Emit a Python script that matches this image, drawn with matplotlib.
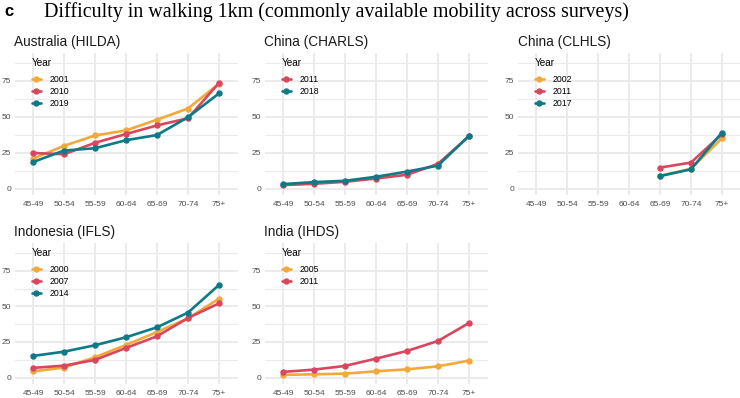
import matplotlib.pyplot as plt
import numpy as np

plt.rcParams["font.family"] = ["Liberation Sans", "DejaVu Sans"]

ages = ["45-49", "50-54", "55-59", "60-64", "65-69", "70-74", "75+"]

# Australia (HILDA)
aus_2001 = [20.9, 29.8, 37.0, 40.5, 48.0, 55.8, 73.0]
aus_2010 = [24.8, 23.9, 31.9, 38.0, 44.0, 49.0, 73.6]
aus_2019 = [18.5, 26.5, 28.1, 33.7, 37.3, 49.7, 66.3]

# China (CHARLS)
charls_2011 = [2.4, 3.3, 4.7, 7.0, 9.6, 17.2, 36.4]
charls_2018 = [3.1, 4.5, 5.4, 8.2, 11.8, 16.0, 36.7]

# China (CLHLS) - only 65+
clhls_2002 = [None, None, None, None, 8.8, 13.8, 35.0]
clhls_2011 = [None, None, None, None, 14.6, 18.1, 37.9]
clhls_2017 = [None, None, None, None, 8.7, 13.4, 39.0]

# Indonesia (IFLS)
ifls_2000 = [4.4, 7.0, 14.3, 22.9, 32.0, 41.6, 55.4]
ifls_2007 = [6.8, 8.4, 12.4, 20.8, 29.0, 41.8, 52.1]
ifls_2014 = [15.2, 18.2, 22.7, 28.3, 35.3, 45.6, 65.0]

# India (IHDS)
ihds_2005 = [1.9, 2.3, 2.8, 4.4, 5.8, 7.9, 11.9]
ihds_2011 = [4.0, 5.6, 8.2, 13.3, 18.7, 25.7, 38.3]

ORANGE = "#F2A93B"
RED = "#D9475E"
TEAL = "#0D7A87"

panels = [
    ("Australia (HILDA)", [("2001", aus_2001, ORANGE), ("2010", aus_2010, RED), ("2019", aus_2019, TEAL)]),
    ("China (CHARLS)", [("2011", charls_2011, RED), ("2018", charls_2018, TEAL)]),
    ("China (CLHLS)", [("2002", clhls_2002, ORANGE), ("2011", clhls_2011, RED), ("2017", clhls_2017, TEAL)]),
    ("Indonesia (IFLS)", [("2000", ifls_2000, ORANGE), ("2007", ifls_2007, RED), ("2014", ifls_2014, TEAL)]),
    ("India (IHDS)", [("2005", ihds_2005, ORANGE), ("2011", ihds_2011, RED)]),
]

W, H = 740, 398
fig = plt.figure(figsize=(W / 100, H / 100), dpi=100)

lefts = [14.5, 264.5, 517.5]
pw = 223
rows = [(53, 195), (243, 384)]

for i, (title, series) in enumerate(panels):
    r, c = divmod(i, 3)
    top, bot = rows[r]
    ax = fig.add_axes([lefts[c] / W, 1 - bot / H, pw / W, (bot - top) / H])
    x = np.arange(len(ages))
    for lab, vals, col in series:
        y = np.array([np.nan if v is None else v for v in vals], dtype=float)
        ax.plot(x, y, color=col, lw=1.9, marker="o", ms=3.6, label=lab,
                solid_capstyle="round")
    ax.set_xlim(-0.6, len(ages) - 0.4)
    ax.set_ylim(-4.5, 94.5)
    ax.set_xticks(x)
    ax.set_xticklabels(ages)
    ax.set_yticks([0, 25, 50, 75])
    ax.set_yticks([12.5, 37.5, 62.5, 87.5], minor=True)
    ax.grid(True, which="major", color="#EBEBEB", lw=1.4)
    ax.grid(True, which="minor", axis="y", color="#EBEBEB", lw=0.8)
    ax.set_axisbelow(True)
    for s in ax.spines.values():
        s.set_visible(False)
    ax.tick_params(axis="both", which="both", length=0, labelsize=6,
                   labelcolor="#4D4D4D")
    ax.tick_params(axis="y", pad=2.5)
    ax.tick_params(axis="x", pad=4)
    ax.set_title(title, loc="left", fontsize=9.8, color="#1a1a1a", pad=5, x=0.0)
    leg = ax.legend(loc="upper left", bbox_to_anchor=(0.062, 0.99), frameon=False,
                    title="Year", fontsize=6.3, title_fontsize=7.2, handlelength=1.0,
                    handletextpad=1.0, labelspacing=0.35, alignment="left",
                    borderaxespad=0)
    leg._legend_box.sep = 5

fig.text(4 / W, 1 - 12 / H, "c", fontsize=12, fontweight="bold",
         va="center", ha="left")
fig.text(44 / W, 1 - 12 / H,
         "Difficulty in walking 1km (commonly available mobility across surveys)",
         fontsize=14.4, family="Liberation Serif", va="center", ha="left")

fig.savefig("out.png", dpi=100)
